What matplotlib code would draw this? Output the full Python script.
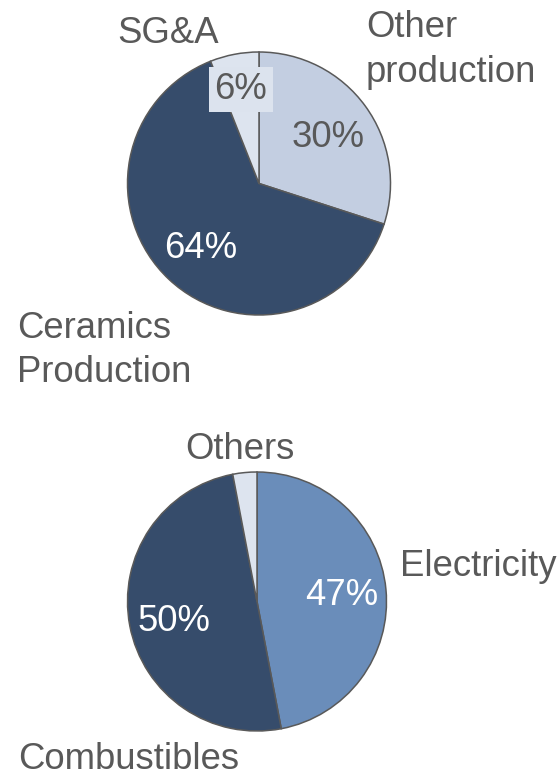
import matplotlib.pyplot as plt

plt.rcParams['font.family'] = ['Liberation Sans', 'DejaVu Sans']

# top pie: cost split
cost_labels = ['Other\nproduction', 'Ceramics\nProduction', 'SG&A']
cost_share = [30, 64, 6]
cost_colors = ['#C3CEE1', '#364C6B', '#DDE4EF']

# bottom pie: energy split
energy_labels = ['Electricity', 'Combustibles', 'Others']
energy_share = [47, 50, 3]
energy_colors = ['#6A8DBA', '#364C6B', '#DDE4EF']

W, H = 559, 776
grey = '#595959'
fs = 26.3

fig = plt.figure(figsize=(W / 100, H / 100), dpi=100)
ax = fig.add_axes([0, 0, 1, 1])

def py(y):
    # pixel row -> data y
    return H - y

def label(x, y, s, ha='left', color=grey, step=44, **kw):
    # one text per line, placed on its baseline
    for i, line in enumerate(s.split('\n')):
        ax.text(x, py(y + i * step), line, ha=ha, va='baseline', fontsize=fs,
                color=color, **kw)

wedge_style = dict(edgecolor=grey, linewidth=1.1)

ax.pie(cost_share, colors=cost_colors, startangle=90, counterclock=False,
       center=(259, py(183.5)), radius=131.5, wedgeprops=wedge_style, frame=True)
ax.pie(energy_share, colors=energy_colors, startangle=90, counterclock=False,
       center=(257, py(601.5)), radius=129.5, wedgeprops=wedge_style, frame=True)
ax.set_xlim(0, W)
ax.set_ylim(0, H)
ax.set_aspect('equal')
ax.axis('off')

# top pie labels
label(366, 37, cost_labels[0], step=45)
label(17, 338, cost_labels[1])
label(168, 43, cost_labels[2], ha='center')

label(328.5, 147, f'{cost_share[0]}%', ha='center')
label(201, 258, f'{cost_share[1]}%', ha='center', color='white')
label(241, 99, f'{cost_share[2]}%', ha='center',
      bbox=dict(boxstyle='square,pad=0.15', facecolor='#DCE3EE', edgecolor='none'))

# bottom pie labels
label(400, 576, energy_labels[0])
label(18, 769, energy_labels[1])
label(240, 459, energy_labels[2], ha='center')

label(341.5, 605, f'{energy_share[0]}%', ha='center', color='white')
label(173.5, 631, f'{energy_share[1]}%', ha='center', color='white')

fig.savefig('out.png', dpi=100)
